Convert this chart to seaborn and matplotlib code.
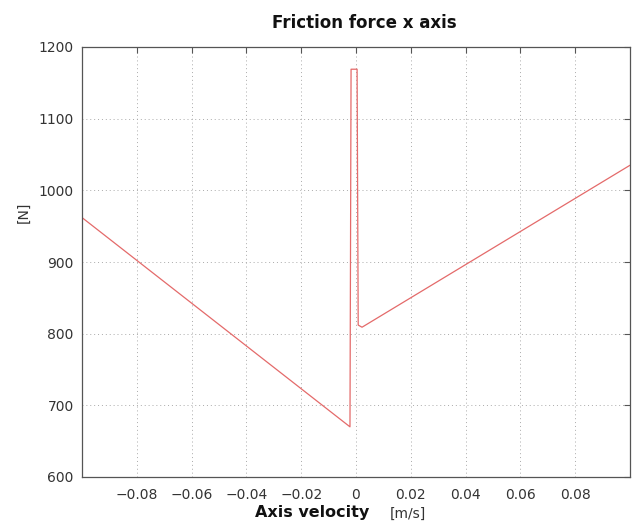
import matplotlib
matplotlib.use("Agg")
import matplotlib.pyplot as plt
import seaborn as sns
import pandas as pd

velocity = [-0.1, -0.0022, -0.0018, 0.0004, 0.0008, 0.0022, 0.1]
force = [962, 670, 1169, 1169, 812, 809, 1035]
xticks = [-0.08, -0.06, -0.04, -0.02, 0, 0.02, 0.04, 0.06, 0.08]
xticklabels = ["\u22120.08", "\u22120.06", "\u22120.04", "\u22120.02", "0", "0.02", "0.04", "0.06", "0.08"]
yticks = [600, 700, 800, 900, 1000, 1100, 1200]

sns.set_style("white")
plt.rcParams['font.family'] = ['DejaVu Sans']

df = pd.DataFrame({"v": velocity, "f": force})

fig = plt.figure(figsize=(6.36, 5.25), dpi=100)
ax = fig.add_axes([82/636, 1-477/525, (630-82)/636, (477-47)/525])
sns.lineplot(data=df, x="v", y="f", sort=False, estimator=None, ax=ax,
             color="#e46a6a", linewidth=0.9)

ax.set_xlim(-0.1, 0.1)
ax.set_ylim(600, 1200)
ax.set_xticks(xticks)
ax.set_xticklabels(xticklabels)
ax.set_yticks(yticks)
ax.grid(True, linestyle=(0, (1, 3)), color="#aaaaaa", linewidth=0.7)
ax.tick_params(direction="in", length=4, top=True, right=True, labelsize=10,
               color="#555555", labelcolor="#333333", pad=6)
ax.tick_params(axis="x", pad=8)
for s in ax.spines.values():
    s.set_color("#555555")
    s.set_linewidth(0.9)
ax.set_xlabel("")
ax.set_ylabel("")

fig.text(364/636, 1-23/525, "Friction force x axis", fontsize=12, fontweight="bold",
         ha="center", va="center", color="#111111")
fig.text(24/636, 1-212/525, "[N]", fontsize=10, rotation=90, ha="center", va="center",
         color="#333333")
fig.text(312/636, 1-513/525, "Axis velocity", fontsize=11.5, fontweight="bold",
         ha="center", va="center", color="#111111")
fig.text(408/636, 1-514/525, "[m/s]", fontsize=10, ha="center", va="center",
         color="#333333")

fig.savefig("out.png", dpi=100)
